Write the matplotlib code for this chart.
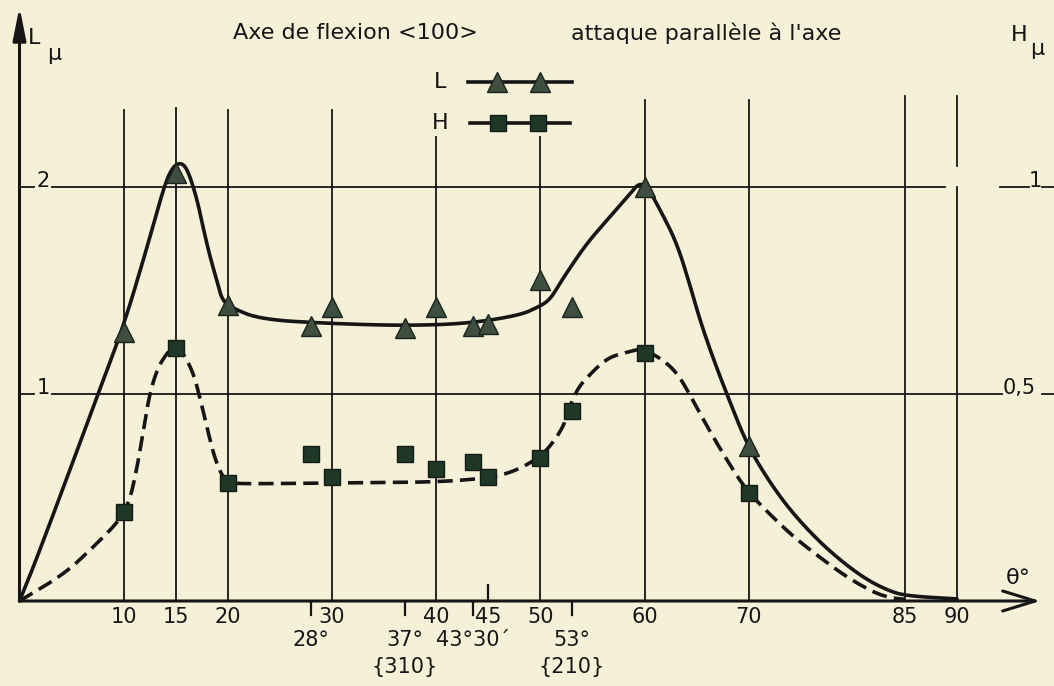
import numpy as np
import matplotlib.pyplot as plt
from matplotlib.lines import Line2D

# measured orientations (theta, degrees) and the two widths L and H (microns)
theta = [10, 15, 20, 28, 30, 37, 40, 43.5, 45, 50, 53, 60, 70]
L_mu = [1.30, 2.07, 1.43, 1.33, 1.42, 1.32, 1.42, 1.33, 1.34, 1.55, 1.42, 2.00, 0.75]
H_mu = [0.215, 0.61, 0.285, 0.355, 0.30, 0.355, 0.32, 0.335, 0.30, 0.345, 0.46, 0.60, 0.26]

# hand-drawn trend curves (knots of the drawn line)
L_curve_theta = [0, 1.7, 7.44, 10.0, 12.2, 13.8, 14.6, 15.4, 16.1, 17.0, 17.6, 18.3,
                 19.0, 19.4, 20.2, 23.1, 30, 37, 43, 48.0, 49.8, 50.9, 51.9, 52.85,
                 54.5, 56.4, 58.3, 59.85, 61.5, 63.1, 64.4, 65.3, 66.6, 67.9, 69.8,
                 71.8, 73.95, 76.6, 79.1, 81.4, 83.3, 85, 90]
L_curve_val = [0, 0.21, 0.985, 1.33, 1.70, 1.99, 2.09, 2.12, 2.09, 1.95, 1.81, 1.66,
               1.54, 1.46, 1.42, 1.36, 1.34, 1.33, 1.34, 1.38, 1.42, 1.454, 1.536, 1.61,
               1.73, 1.84, 1.95, 2.04, 1.89, 1.73, 1.52, 1.36, 1.17, 1.00, 0.76,
               0.59, 0.44, 0.295, 0.184, 0.101, 0.053, 0.025, 0.01]
H_curve_theta = [0, 4.3, 7.07, 9.36, 9.94, 10.6, 11.3, 11.9, 12.5, 13.3, 14.2, 14.9,
                 15.7, 16.7, 17.3, 18.0, 18.6, 19.3, 20.0, 22, 30, 40, 45, 47.4, 49.7,
                 50.9, 52.2, 52.7, 53.5, 54.5, 56.4, 58.3, 59.8, 61.8, 63.1, 64.1,
                 65.3, 66.6, 67.9, 69.7, 71.8, 74.3, 76.8, 79.4, 81.9, 83.5, 85]
H_curve_val = [0, 0.065, 0.13, 0.188, 0.215, 0.244, 0.324, 0.413, 0.502, 0.565, 0.60,
               0.618, 0.60, 0.55, 0.493, 0.42, 0.357, 0.309, 0.285, 0.283, 0.285,
               0.287, 0.297, 0.312, 0.343, 0.372, 0.42, 0.461, 0.51, 0.541, 0.587,
               0.601, 0.61, 0.582, 0.551, 0.51, 0.454, 0.396, 0.341, 0.27, 0.215,
               0.155, 0.106, 0.058, 0.022, 0.008, 0.004]

tick_angles = [10, 15, 20, 30, 40, 45, 50, 60, 70, 85, 90]
special_angles = [28, 37, 43.5, 53]
special_labels = ['28°', '37°', '43°30´', '53°']
plane_angles = [37, 53]
plane_labels = ['{310}', '{210}']


def chaikin(xs, ys, passes=4):
    # corner cutting, keeps both end points
    p = np.column_stack([xs, ys]).astype(float)
    for _ in range(passes):
        q = 0.75 * p[:-1] + 0.25 * p[1:]
        r = 0.25 * p[:-1] + 0.75 * p[1:]
        mid = np.empty((2 * len(q), 2))
        mid[0::2] = q
        mid[1::2] = r
        p = np.vstack([p[:1], mid, p[-1:]])
    return p[:, 0], p[:, 1]


paper = '#f5f0d8'
ink = '#161616'
W, Hp = 1054, 686
px0, py0 = 19.5, 601.0
sx, sy = 10.417, 207.0
fs = 15

fig = plt.figure(figsize=(W / 100, Hp / 100), dpi=100)
fig.patch.set_facecolor(paper)
ax = fig.add_axes([0, 0, 1, 1])
ax.set_facecolor(paper)
ax.set_xlim(-px0 / sx, (W - px0) / sx)
ax.set_ylim(-(Hp - py0) / sy, py0 / sy)
ax.axis('off')
ax2 = ax.twinx()
lo, hi = ax.get_ylim()
ax2.set_ylim(lo / 2, hi / 2)
ax2.axis('off')

# vertical guide lines
grid_top = {10: 2.37, 15: 2.38, 20: 2.37, 30: 2.37, 40: 2.24, 50: 2.24,
            60: 2.42, 70: 2.42, 85: 2.44}
glw = 1.3
for a, top in grid_top.items():
    ax.plot([a, a], [0, top], color=ink, lw=glw, zorder=1)
ax.plot([90, 90], [0, 2.0], color=ink, lw=glw, zorder=1)
ax.plot([90, 90], [2.1, 2.44], color=ink, lw=glw, zorder=1)

# horizontal guide lines with their labels
for val, right_end in [(2, 88.8), (1, 94.3)]:
    ax.plot([0, 1.4], [val, val], color=ink, lw=glw, zorder=1)
    ax.plot([3.1, right_end], [val, val], color=ink, lw=glw, zorder=1)
    ax.plot([98.2, 99.4], [val, val], color=ink, lw=glw, zorder=1)
    ax.text(2.25, val, str(val), fontsize=fs, color=ink, ha='center', va='baseline')
ax.plot([94.1, 96.9], [2, 2], color=ink, lw=glw, zorder=1)
ax.text(97.55, 2, '1', fontsize=fs, color=ink, ha='center', va='baseline')
ax.text(94.4, 1, '0,5', fontsize=fs, color=ink, ha='left', va='baseline')

# axes with arrows
ax.annotate('', xy=(0, 2.87), xytext=(0, 0),
            arrowprops=dict(arrowstyle='-|>,head_length=1.1,head_width=0.22',
                            color=ink, lw=2.2, shrinkA=0, shrinkB=0,
                            mutation_scale=18))
ax.annotate('', xy=(98.0, 0), xytext=(0, 0),
            arrowprops=dict(arrowstyle='->,head_length=1.3,head_width=0.4',
                            color=ink, lw=2.2, shrinkA=0, shrinkB=0,
                            mutation_scale=18))

# tick labels
for a in tick_angles:
    ax.text(a, -0.077, str(a), fontsize=fs, color=ink, ha='center', va='center')
for a, lab in zip(special_angles, special_labels):
    ax.plot([a, a], [-0.01, -0.07], color=ink, lw=1.6)
    ax.text(a, -0.188, lab, fontsize=fs, color=ink, ha='center', va='center')
ax.plot([45, 45], [0, 0.075], color=ink, lw=1.6)
for a, lab in zip(plane_angles, plane_labels):
    ax.text(a, -0.32, lab, fontsize=fs, color=ink, ha='center', va='center')

# curves and points
lx, ly = chaikin(L_curve_theta, L_curve_val)
ax.plot(lx, ly, color=ink, lw=2.6, zorder=2, solid_capstyle='round')
hx, hy = chaikin(H_curve_theta, H_curve_val)
ax2.plot(hx, hy, color=ink, lw=2.6, zorder=2, dashes=(4.2, 2.0))

tri_style = dict(marker='^', ms=14, mfc='#3e4e41', mec='#1b231d', mew=1.0, ls='none')
sq_style = dict(marker='s', ms=12, mfc='#1f3727', mec='#131c15', mew=1.0, ls='none')
ax.plot(theta, L_mu, zorder=3, **tri_style)
ax2.plot(theta, H_mu, zorder=3, **sq_style)

# axis names and title
tr = ax.transAxes
ax.text(34 / W, 1 - 38 / Hp, 'L', transform=tr, fontsize=16, color=ink,
        ha='center', va='center')
ax.text(54 / W, 1 - 54 / Hp, 'μ', transform=tr, fontsize=16, color=ink,
        ha='center', va='center')
ax.text(1019 / W, 1 - 35 / Hp, 'H', transform=tr, fontsize=16, color=ink,
        ha='center', va='center')
ax.text(1037 / W, 1 - 49 / Hp, 'μ', transform=tr, fontsize=16, color=ink,
        ha='center', va='center')
ax.text(1018 / W, 1 - 578 / Hp, 'θ°', transform=tr, fontsize=16, color=ink,
        ha='center', va='center')
ax.text(355 / W, 1 - 33 / Hp, 'Axe de flexion <100>', transform=tr,
        fontsize=16, color=ink, ha='center', va='center')
ax.text(706 / W, 1 - 33 / Hp, 'attaque parallèle à l\'axe', transform=tr,
        fontsize=16, color=ink, ha='center', va='center')

# key
ax.text(440 / W, 1 - 82 / Hp, 'L', transform=tr, fontsize=16, color=ink,
        ha='center', va='center')
ax.text(440 / W, 1 - 123 / Hp, 'H', transform=tr, fontsize=16, color=ink,
        ha='center', va='center')
ax.add_line(Line2D([468 / W, 572 / W], [1 - 82 / Hp] * 2, transform=tr,
                   color=ink, lw=2.6))
ax.add_line(Line2D([497 / W, 540 / W], [1 - 82 / Hp] * 2, transform=tr,
                   zorder=3, **tri_style))
for x1, x2 in [(470, 489), (505, 529), (547, 570)]:
    ax.add_line(Line2D([x1 / W, x2 / W], [1 - 123 / Hp] * 2, transform=tr,
                       color=ink, lw=2.6))
ax.add_line(Line2D([498 / W, 538 / W], [1 - 123 / Hp] * 2, transform=tr,
                   zorder=3, **sq_style))

fig.savefig('out.png', dpi=100, facecolor=paper)
